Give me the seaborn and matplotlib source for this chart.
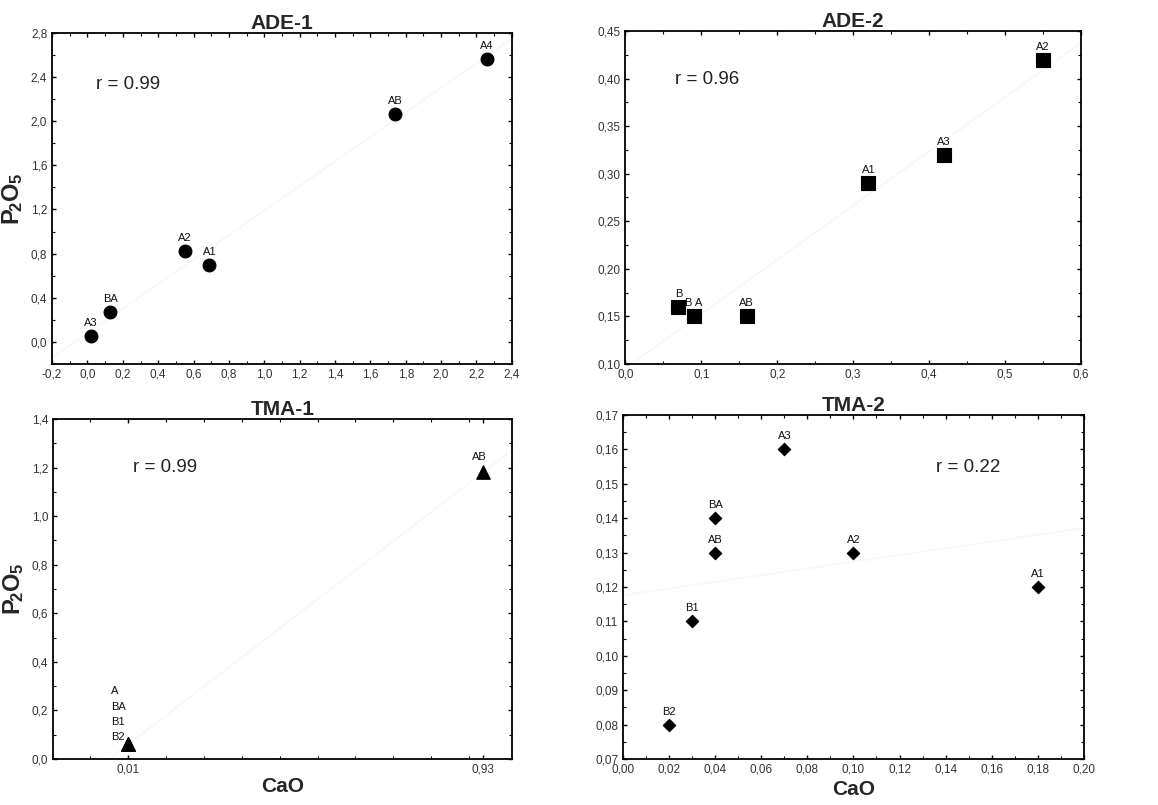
import matplotlib
matplotlib.use("Agg")
import matplotlib.pyplot as plt
import numpy as np
import pandas as pd
import seaborn as sns
from matplotlib.ticker import AutoMinorLocator, FixedLocator

sns.set_theme(style="white")
plt.rcParams["font.family"] = ["Liberation Sans", "DejaVu Sans"]
plt.rcParams["mathtext.fontset"] = "custom"
plt.rcParams["mathtext.rm"] = "Liberation Sans"
plt.rcParams["mathtext.bf"] = "Liberation Sans:bold"

# ADE-1
ade1_labels = ["A3", "BA", "A2", "A1", "AB", "A4"]
ade1_cao = [0.02, 0.13, 0.55, 0.69, 1.74, 2.26]
ade1_p2o5 = [0.05, 0.27, 0.82, 0.70, 2.07, 2.56]

# ADE-2
ade2_labels = ["B", "B A", "AB", "A1", "A3", "A2"]
ade2_cao = [0.07, 0.09, 0.16, 0.32, 0.42, 0.55]
ade2_p2o5 = [0.16, 0.15, 0.15, 0.29, 0.32, 0.42]

# TMA-1 (four horizons share one point)
tma1_labels = ["A", "BA", "B1", "B2", "AB"]
tma1_cao = [0.01, 0.01, 0.01, 0.01, 0.93]
tma1_p2o5 = [0.06, 0.06, 0.06, 0.06, 1.18]

# TMA-2
tma2_labels = ["B2", "B1", "AB", "BA", "A3", "A2", "A1"]
tma2_cao = [0.02, 0.03, 0.04, 0.04, 0.07, 0.10, 0.18]
tma2_p2o5 = [0.08, 0.11, 0.13, 0.14, 0.16, 0.13, 0.12]

r_values = ["r = 0.99", "r = 0.96", "r = 0.99", "r = 0.22"]
titles = ["ADE-1", "ADE-2", "TMA-1", "TMA-2"]

fig = plt.figure(figsize=(11.58, 8.05), dpi=100)
axes = [
    fig.add_axes([0.045, 0.548, 0.397, 0.411]),
    fig.add_axes([0.540, 0.548, 0.3935, 0.4135]),
    fig.add_axes([0.0458, 0.0571, 0.3962, 0.4224]),
    fig.add_axes([0.538, 0.0571, 0.398, 0.4274]),
]

panels = [
    (ade1_labels, ade1_cao, ade1_p2o5, "o", 85),
    (ade2_labels, ade2_cao, ade2_p2o5, "s", 90),
    (tma1_labels, tma1_cao, tma1_p2o5, "^", 95),
    (tma2_labels, tma2_cao, tma2_p2o5, "D", 40),
]
limits = [
    ((-0.2, 2.4), (-0.2, 2.8)),
    ((0, 0.6), (0.10, 0.45)),
    ((-0.185, 1.005), (0, 1.4)),
    ((0, 0.20), (0.07, 0.17)),
]
r_pos = [(0.049, 2.336), (0.066, 0.399), (0.022, 1.202), (0.136, 0.1546)]

for ax, (labels, xs, ys, mk, sz), (xl, yl), title, rtxt, rp in zip(
        axes, panels, limits, titles, r_values, r_pos):
    ax.set_xlim(*xl)
    ax.set_ylim(*yl)
    df = pd.DataFrame({"CaO": xs, "P2O5": ys, "lab": labels})
    # barely visible fit line, as in the scanned original
    sns.regplot(data=df, x="CaO", y="P2O5", ax=ax, scatter=False, ci=None,
                truncate=False, line_kws={"color": "#f8f8f8", "lw": 1.2})
    sns.scatterplot(data=df, x="CaO", y="P2O5", ax=ax, marker=mk, s=sz,
                    color="black", edgecolor="black", linewidth=0.8, zorder=3)
    ax.set_xlim(*xl)
    ax.set_ylim(*yl)
    ax.set_title(title, fontsize=15, fontweight="bold", pad=2)
    ax.set_xlabel("")
    ax.set_ylabel("")
    for sp in ax.spines.values():
        sp.set_color("black")
        sp.set_linewidth(1.3)
    ax.tick_params(which="both", direction="in", top=True, right=True,
                   bottom=True, left=True, color="black", labelsize=8.5,
                   labelcolor="#333333")
    ax.tick_params(which="major", length=3, width=1)
    ax.tick_params(which="minor", length=2, width=0.8)
    ax.text(rp[0], rp[1], rtxt, fontsize=13.5, color="#222222", va="center")

# ticks
ax = axes[0]
ax.set_xticks(np.arange(-0.2, 2.41, 0.2))
ax.set_yticks(np.arange(0.0, 2.81, 0.4))
ax.xaxis.set_minor_locator(AutoMinorLocator(2))
ax.yaxis.set_minor_locator(AutoMinorLocator(2))

ax = axes[1]
ax.set_xticks(np.arange(0, 0.61, 0.1))
ax.set_yticks(np.arange(0.10, 0.451, 0.05))
ax.xaxis.set_minor_locator(AutoMinorLocator(2))
ax.yaxis.set_minor_locator(AutoMinorLocator(2))

ax = axes[2]
ax.set_xticks([0.01, 0.93])
ax.xaxis.set_minor_locator(FixedLocator(np.arange(-0.09, 0.95, 0.0985)))
ax.set_yticks(np.arange(0, 1.41, 0.2))
ax.yaxis.set_minor_locator(AutoMinorLocator(2))

ax = axes[3]
ax.set_xticks(np.arange(0, 0.201, 0.02))
ax.set_yticks(np.arange(0.07, 0.1701, 0.01))
ax.xaxis.set_minor_locator(AutoMinorLocator(2))
ax.yaxis.set_minor_locator(AutoMinorLocator(2))

# decimal comma tick labels
for ax, fmt in zip(axes, ["{:.1f}", "{:.1f}", None, "{:.2f}"]):
    if fmt:
        ax.set_xticklabels([fmt.format(v).replace(".", ",") for v in ax.get_xticks()])
for ax, fmt in zip(axes, ["{:.1f}", "{:.2f}", "{:.1f}", "{:.2f}"]):
    ax.set_yticklabels([fmt.format(v).replace(".", ",") for v in ax.get_yticks()])
axes[2].set_xticklabels(["0,01", "0,93"])

# point labels
for ax, (labels, xs, ys, mk, sz) in zip([axes[0], axes[1], axes[3]],
                                         [panels[0], panels[1], panels[3]]):
    for lab, x, y in zip(labels, xs, ys):
        ax.annotate(lab, (x, y), xytext=(0, 8), textcoords="offset pixels",
                    ha="center", va="bottom", fontsize=8, color="#111111")

stack_offsets = [53, 37, 22, 7]
for lab, x, y, dy in zip(tma1_labels[:4], tma1_cao[:4], tma1_p2o5[:4], stack_offsets):
    axes[2].annotate(lab, (x, y), xytext=(-17, dy), textcoords="offset pixels",
                     ha="left", va="center", fontsize=8, color="#111111")
axes[2].annotate(tma1_labels[4], (tma1_cao[4], tma1_p2o5[4]), xytext=(-4, 10),
                 textcoords="offset pixels", ha="center", va="bottom",
                 fontsize=8, color="#111111")

ylab = r"$\mathbf{P_{\!2}O_5}$"
axes[0].set_ylabel(ylab, fontsize=17, labelpad=4)
axes[2].set_ylabel(ylab, fontsize=17, labelpad=4)
axes[2].set_xlabel("CaO", fontsize=15, fontweight="bold", labelpad=1)
axes[3].set_xlabel("CaO", fontsize=15, fontweight="bold", labelpad=3)

fig.savefig("out.png", dpi=100, facecolor="white")
